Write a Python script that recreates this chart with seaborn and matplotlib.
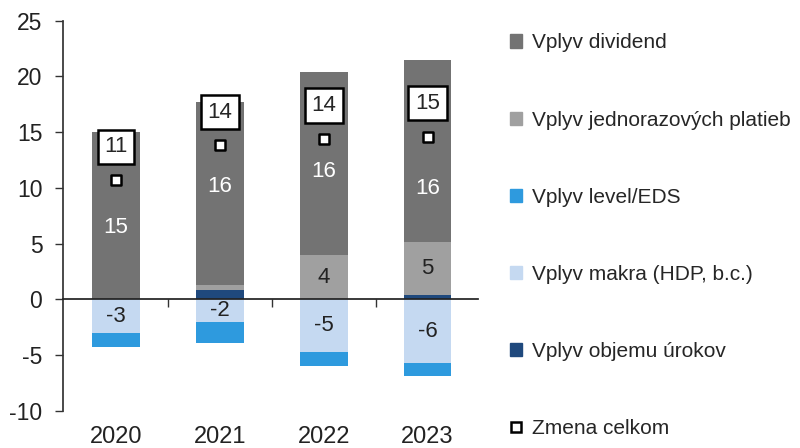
"""Stacked contribution chart: dividend, one-off payments, level/EDS, macro, interest volume"""
import numpy as np
import pandas as pd
import matplotlib
matplotlib.use('Agg')
import matplotlib.pyplot as plt
from matplotlib.patches import Patch
from matplotlib.lines import Line2D
import seaborn as sns

# data
years = ['2020', '2021', '2022', '2023']
dividend = [15.0, 16.4, 16.4, 16.4]
jednorazove = [0.0, 0.45, 4.0, 4.7]
objem_urokov = [0.0, 0.85, 0.0, 0.4]
makro = [-3.0, -2.0, -4.7, -5.7]
level_eds = [-1.3, -1.9, -1.3, -1.2]

# where the dividend numbers sit inside the bars (as in the original)
div_label_y = [6.4, 10.1, 11.5, 9.9]

names = ['Vplyv dividend', 'Vplyv jednorazových platieb', 'Vplyv level/EDS',
         'Vplyv makra (HDP, b.c.)', 'Vplyv objemu úrokov', 'Zmena celkom']
colors = {'div': '#737373', 'jed': '#a0a0a0', 'lev': '#2e9ade',
          'mak': '#c5d9f1', 'obj': '#1f497d'}

df = pd.DataFrame({'year': years, 'div': dividend, 'jed': jednorazove,
                   'obj': objem_urokov, 'mak': makro, 'lev': level_eds})
df['total'] = df[['div', 'jed', 'obj', 'mak', 'lev']].sum(axis=1)

sns.set_theme(style='white')
plt.rcParams['font.family'] = ['Liberation Sans', 'DejaVu Sans']

fig = plt.figure(figsize=(8, 4.48), dpi=100)
ax = fig.add_axes([0.079, 0.083, 0.519, 0.871])

width = 0.46
# positive stack: objem -> jednorazove -> dividend
pos_bottom = np.zeros(len(df))
for key in ['obj', 'jed', 'div']:
    sns.barplot(x=df['year'], y=df[key], bottom=pos_bottom, color=colors[key],
                width=width, saturation=1, ax=ax, linewidth=0)
    pos_bottom = pos_bottom + df[key].values
# negative stack: makro -> level
neg_bottom = np.zeros(len(df))
for key in ['mak', 'lev']:
    sns.barplot(x=df['year'], y=df[key], bottom=neg_bottom, color=colors[key],
                width=width, saturation=1, ax=ax, linewidth=0)
    neg_bottom = neg_bottom + df[key].values

# segment labels
xs = np.arange(len(df))
base_jed = df['obj'].values
for i in xs:
    ax.text(i, div_label_y[i], f"{df['div'][i]:.0f}", ha='center', va='center',
            color='white', fontsize=16)
    if df['jed'][i] >= 1.5:
        ax.text(i, base_jed[i] + df['jed'][i] / 2, f"{df['jed'][i]:.0f}", ha='center',
                va='center', color='#222222', fontsize=16)
    ax.text(i, df['mak'][i] / 2, f"{df['mak'][i]:.0f}", ha='center', va='center',
            color='#222222', fontsize=16)

# total markers and boxed labels
ax.scatter(xs, df['total'], marker='s', s=60, facecolor='white', edgecolor='black',
           linewidth=1.8, zorder=5)
for i in xs:
    ax.annotate(f"{df['total'][i]:.0f}", (i, df['total'][i]), xytext=(0, 24),
                textcoords='offset points', ha='center', va='center', fontsize=16,
                bbox=dict(boxstyle='square,pad=0.3', fc='white', ec='black', lw=1.8),
                zorder=6)

# axes styling
ax.set_ylim(-10, 25)
ax.set_xlim(-0.51, 3.49)
ax.set_yticks(range(-10, 26, 5))
ax.set_yticklabels([str(v) for v in range(-10, 26, 5)], fontsize=16.5, color='#222222')
ax.tick_params(axis='y', direction='out', length=6, width=1, color='#333333', pad=9, left=True)
ax.spines['top'].set_visible(False)
ax.spines['right'].set_visible(False)
ax.spines['left'].set_color('#333333')
ax.spines['bottom'].set_position(('data', 0))
ax.spines['bottom'].set_color('#222222')
ax.set_xticks([0.5, 1.5, 2.5])
ax.set_xticklabels([])
ax.tick_params(axis='x', direction='out', length=6, width=1, color='#333333', bottom=True)
ax.set_xlabel('')
ax.set_ylabel('')
for i, yr in enumerate(years):
    ax.text(i, -0.068, yr, transform=ax.get_xaxis_transform(), ha='center', va='center',
            fontsize=17, color='#222222')

# legend
handles = [Patch(color=colors['div']), Patch(color=colors['jed']), Patch(color=colors['lev']),
           Patch(color=colors['mak']), Patch(color=colors['obj']),
           Line2D([], [], marker='s', linestyle='', markersize=7.5, markerfacecolor='white',
                  markeredgecolor='black', markeredgewidth=1.8)]
fig.legend(handles, names, loc='upper left', bbox_to_anchor=(0.627, 0.944), frameon=False,
           fontsize=15, labelspacing=2.79, handlelength=0.6, handleheight=0.6,
           handletextpad=0.45, borderaxespad=0)

fig.savefig('out.png', dpi=100)
